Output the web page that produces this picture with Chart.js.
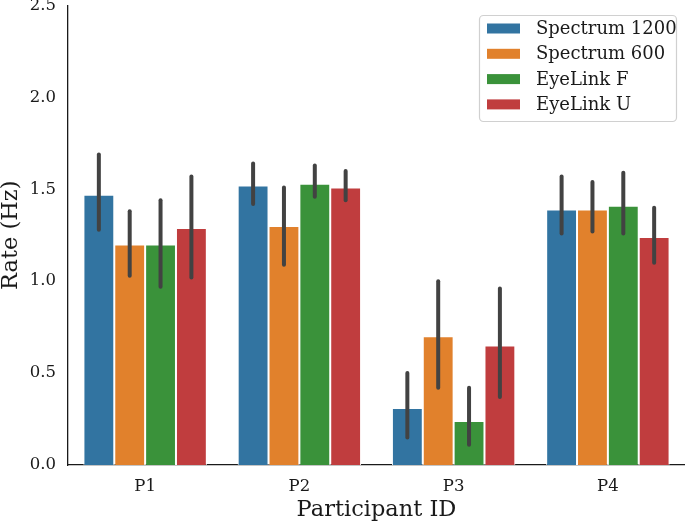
<!DOCTYPE html>
<html>
<head>
<meta charset="utf-8">
<script src="https://cdn.jsdelivr.net/npm/chart.js@4.4.1/dist/chart.umd.min.js"></script>
<style>
  html, body { margin: 0; padding: 0; background: #fff; }
  #wrap { width: 685px; height: 523px; }
</style>
</head>
<body>
<div id="wrap"><canvas id="chart" width="685" height="523"></canvas></div>
<script>
// values
const participants = ["P1", "P2", "P3", "P4"];
const seriesNames = ["Spectrum 1200", "Spectrum 600", "EyeLink F", "EyeLink U"];
const seriesColors = ["#3274a1", "#e1812c", "#3a923a", "#c03d3e"];

const spectrum1200 = [1.47, 1.52, 0.31, 1.39];
const spectrum600 = [1.20, 1.30, 0.70, 1.39];
const eyelinkF = [1.20, 1.53, 0.24, 1.41];
const eyelinkU = [1.29, 1.51, 0.65, 1.24];

// confidence interval ends (low / high)
const spectrum1200Low = [1.28, 1.42, 0.15, 1.26];
const spectrum1200High = [1.69, 1.64, 0.50, 1.57];
const spectrum600Low = [1.03, 1.09, 0.42, 1.27];
const spectrum600High = [1.38, 1.51, 1.00, 1.54];
const eyelinkFLow = [0.97, 1.46, 0.11, 1.26];
const eyelinkFHigh = [1.44, 1.63, 0.42, 1.59];
const eyelinkULow = [1.02, 1.44, 0.37, 1.10];
const eyelinkUHigh = [1.57, 1.60, 0.96, 1.40];

const yTicks = [0, 0.5, 1.0, 1.5, 2.0, 2.5];

const seriesValues = [spectrum1200, spectrum600, eyelinkF, eyelinkU];
const seriesLow = [spectrum1200Low, spectrum600Low, eyelinkFLow, eyelinkULow];
const seriesHigh = [spectrum1200High, spectrum600High, eyelinkFHigh, eyelinkUHigh];

const SERIF = "'DejaVu Serif', serif";
const INK = "#1a1a1a";

// draws the seaborn-style confidence bars on top of each bar
const errorBars = {
    id: "errorBars",
    afterDatasetsDraw(chart) {
        const ctx = chart.ctx;
        const y = chart.scales.y;
        ctx.save();
        ctx.strokeStyle = "#424242";
        ctx.lineWidth = 4;
        ctx.lineCap = "round";
        chart.data.datasets.forEach((ds, i) => {
            const meta = chart.getDatasetMeta(i);
            meta.data.forEach((bar, j) => {
                ctx.beginPath();
                ctx.moveTo(bar.x, y.getPixelForValue(seriesLow[i][j]));
                ctx.lineTo(bar.x, y.getPixelForValue(seriesHigh[i][j]));
                ctx.stroke();
            });
        });
        ctx.restore();
    },
};

// legend floating inside the plot, top right, like matplotlib's
const insideLegend = {
    id: "insideLegend",
    afterDraw(chart) {
        const ctx = chart.ctx;
        const area = chart.chartArea;
        const boxW = 197, boxH = 106;
        const left = area.right - boxW - 9;
        const top = 15;
        ctx.save();
        ctx.fillStyle = "rgba(255,255,255,0.85)";
        ctx.strokeStyle = "#d0d0d0";
        ctx.lineWidth = 1.2;
        ctx.beginPath();
        ctx.roundRect(left + 0.5, top + 0.5, boxW, boxH, 4);
        ctx.fill();
        ctx.stroke();
        ctx.font = "18px " + SERIF;
        ctx.textBaseline = "middle";
        chart.data.datasets.forEach((ds, i) => {
            const cy = top + 13.5 + i * 25.3;
            ctx.fillStyle = ds.backgroundColor;
            ctx.fillRect(left + 8, cy - 5, 33, 10);
            ctx.fillStyle = INK;
            ctx.fillText(ds.label, left + 57, cy + 1);
        });
        ctx.restore();
    },
};

new Chart(document.getElementById("chart"), {
    type: "bar",
    data: {
        labels: participants,
        datasets: seriesNames.map((name, i) => ({
            label: name,
            data: seriesValues[i],
            backgroundColor: seriesColors[i],
            borderColor: "#ffffff",
            borderWidth: 1,
            categoryPercentage: 0.8,
            barPercentage: 1.0,
        })),
    },
    options: {
        responsive: false,
        animation: false,
        layout: { padding: { top: 5.5, right: 0, left: 0, bottom: 0 } },
        plugins: {
            legend: { display: false },
            tooltip: { enabled: false },
        },
        scales: {
            x: {
                grid: { display: false, drawTicks: false },
                border: { display: true, color: INK, width: 1.3 },
                ticks: { color: INK, font: { family: SERIF, size: 16.5 }, padding: 12 },
                title: {
                    display: true,
                    text: "Participant ID",
                    color: INK,
                    font: { family: SERIF, size: 22.5, lineHeight: 1 },
                    padding: { top: 0, bottom: 2 },
                },
                afterFit: (scale) => {
                    scale.height = 58;
                    scale.paddingLeft = 0;
                    scale.paddingRight = 0;
                },
            },
            y: {
                min: 0,
                max: 2.5,
                afterBuildTicks: (scale) => { scale.ticks = yTicks.map((v) => ({ value: v })); },
                grid: { display: false, drawTicks: false },
                border: { display: true, color: INK, width: 1.3 },
                ticks: {
                    color: INK,
                    font: { family: SERIF, size: 16.5 },
                    padding: 12,
                    callback: (v) => Number(v).toFixed(1),
                },
                title: {
                    display: true,
                    text: "Rate (Hz)",
                    color: INK,
                    font: { family: SERIF, size: 22.5, lineHeight: 1 },
                    padding: { top: 0, bottom: 0 },
                },
                afterFit: (scale) => {
                    scale.width = 68;
                    scale.paddingTop = 0;
                    scale.paddingBottom = 0;
                },
            },
        },
    },
    plugins: [errorBars, insideLegend],
});
</script>
</body>
</html>
